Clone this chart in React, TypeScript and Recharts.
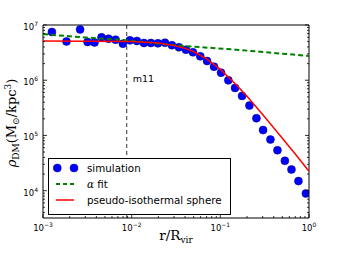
import React from 'react';
import { ComposedChart, Scatter, XAxis, YAxis, ReferenceLine } from 'recharts';

// simulation density profile (blue dots)
const simR = [
  0.00126, 0.00184, 0.00262, 0.00318, 0.00381, 0.00457, 0.00548, 0.00658, 0.00796, 0.00955,
  0.01146, 0.01375, 0.01648, 0.01977, 0.02372, 0.02844, 0.03412, 0.04093, 0.04909, 0.0594,
  0.0708, 0.0849, 0.1019, 0.1231, 0.1465, 0.1758, 0.2128, 0.2553, 0.3034, 0.3672,
  0.4406, 0.5343, 0.6342, 0.7603, 0.9226,
];
const simRho = [
  7.47e6, 5.05e6, 8.32e6, 4.93e6, 4.84e6, 5.97e6, 5.65e6, 5.42e6, 4.59e6, 5.27e6,
  5.14e6, 4.73e6, 4.73e6, 4.65e6, 4.78e6, 4.31e6, 3.94e6, 3.57e6, 3.2e6, 2.71e6,
  2.23e6, 1.76e6, 1.37e6, 9.96e5, 7.26e5, 5.2e5, 3.47e5, 2.05e5, 1.25e5, 8.44e4,
  5.4e4, 3.47e4, 2.42e4, 1.49e4, 8.9e3,
];

// alpha fit (green dashed)
const alphaR = [0.001, 0.002, 0.004, 0.008, 0.016, 0.03, 0.06, 0.15, 0.3, 0.6, 1.0];
const alphaRho = [6.85e6, 6.25e6, 5.75e6, 5.35e6, 4.8e6, 4.3e6, 3.97e6, 3.58e6, 3.25e6, 2.95e6, 2.75e6];

// pseudo-isothermal sphere (red)
const isoR = [0.001, 0.01, 0.02, 0.03, 0.04, 0.05, 0.07, 0.1, 0.15, 0.2, 0.3, 0.5, 0.7, 1.0];
const isoRho = [5.14e6, 5.03e6, 4.71e6, 4.27e6, 3.77e6, 3.28e6, 2.43e6, 1.57e6, 8.4e5, 5.1e5, 2.4e5, 8.9e4, 4.6e4, 2.25e4];

const m11Radius = 0.0088;

const xMajor = [0.001, 0.01, 0.1, 1];
const yMajor = [1e4, 1e5, 1e6, 1e7];
const xDomain = [0.001, 1];
const yDomain = [3200, 1e7];

const pairs = (rs: number[], vs: number[]) => rs.map((r, i) => ({ r, rho: vs[i] }));
const simData = pairs(simR, simRho);
const alphaData = pairs(alphaR, alphaRho);
const isoData = pairs(isoR, isoRho);

// majors plus 2..9 minors, kept inside the domain
const withMinors = (majors: number[], lo: number, hi: number) => {
  const out: number[] = [];
  const first = majors[0] / 10;
  for (let d = first; d <= hi * 1.0001; d *= 10) {
    for (let m = 1; m < 10; m++) {
      const v = d * m;
      if (v >= lo * 0.9999 && v <= hi * 1.0001) out.push(v);
    }
  }
  return out;
};
const xTicks = withMinors(xMajor, xDomain[0], xDomain[1]);
const yTicks = withMinors(yMajor, yDomain[0], yDomain[1]);

const isMajor = (v: number) => Math.abs(Math.log10(v) - Math.round(Math.log10(v))) < 1e-6;
const supText = (v: number) => {
  const e = Math.round(Math.log10(v));
  return e < 0 ? `\u2212${-e}` : `${e}`;
};

const tickFont = { fontFamily: 'DejaVu Sans', fontSize: 8.5, fill: '#000' };

const makeTick = (side: string) => (props: any) => {
  const { x, y, payload } = props;
  const v = payload.value;
  const major = isMajor(v);
  const len = major ? 4 : 2;
  if (side === 'bottom') {
    return (
      <g>
        <line x1={x} x2={x} y1={y} y2={y - len} stroke="#000" strokeWidth={0.8} />
        {major && (
          <text x={x} y={y + 13} textAnchor="middle" {...tickFont}>
            10<tspan dy={-4} fontSize={6}>{supText(v)}</tspan>
          </text>
        )}
      </g>
    );
  }
  if (side === 'top') {
    return <line x1={x} x2={x} y1={y} y2={y + len} stroke="#000" strokeWidth={0.8} />;
  }
  if (side === 'left') {
    return (
      <g>
        <line x1={x} x2={x + len} y1={y} y2={y} stroke="#000" strokeWidth={0.8} />
        {major && (
          <text x={x - 5} y={y + 5} textAnchor="end" {...tickFont}>
            10<tspan dy={-4} fontSize={6}>{supText(v)}</tspan>
          </text>
        )}
      </g>
    );
  }
  return <line x1={x} x2={x - len} y1={y} y2={y} stroke="#000" strokeWidth={0.8} />;
};

const NoShape = () => <g />;

const Dot = (props: any) => (
  <circle cx={props.cx} cy={props.cy} r={4} fill="#0000ff" stroke="#000080" strokeWidth={0.5} />
);

const M11Label = (props: any) => {
  const vb = props.viewBox || {};
  return (
    <text x={vb.x + 6} y={vb.y + 57} fontFamily="DejaVu Sans" fontSize={9.5} fill="#000">
      m11
    </text>
  );
};

const axisLine = { stroke: '#000', strokeWidth: 1 };
const serif = 'DejaVu Serif, DejaVu Sans';

const Legend = () => (
  <svg
    width={185}
    height={59}
    style={{ position: 'absolute', left: 47, top: 157 }}
  >
    <rect x={1.5} y={1.5} width={182} height={56} fill="#fff" stroke="#000" strokeWidth={1} />
    <circle cx={10.3} cy={11} r={4} fill="#0000ff" stroke="#000080" strokeWidth={0.5} />
    <circle cx={27} cy={11} r={4} fill="#0000ff" stroke="#000080" strokeWidth={0.5} />
    <text x={40} y={14.5} fontFamily="DejaVu Sans" fontSize={10.3} fill="#000">simulation</text>
    <line x1={9} x2={27} y1={27} y2={27} stroke="#008000" strokeWidth={2} strokeDasharray="4 3" />
    <text x={40} y={30.5} fontSize={10.3} fill="#000">
      <tspan fontFamily={serif} fontStyle="italic">α</tspan>
      <tspan fontFamily="DejaVu Sans"> fit</tspan>
    </text>
    <line x1={9} x2={27} y1={43} y2={43} stroke="#ff0000" strokeWidth={1.5} />
    <text x={40} y={46.5} fontFamily="DejaVu Sans" fontSize={10.3} fill="#000">pseudo-isothermal sphere</text>
  </svg>
);

export default function App() {
  return (
    <div style={{ position: 'fixed', left: 0, top: 0, width: 344, height: 258, background: '#fff' }}>
      <ComposedChart
        width={344}
        height={258}
        margin={{ top: 24, right: 34, bottom: 10, left: 8 }}
      >
        <XAxis
          dataKey="r"
          type="number"
          scale="log"
          domain={xDomain}
          allowDataOverflow
          ticks={xTicks}
          interval={0}
          tickSize={0}
          tickMargin={0}
          tickLine={false}
          tick={makeTick('bottom')}
          axisLine={axisLine}
          height={30}
        />
        <XAxis
          xAxisId="top"
          orientation="top"
          type="number"
          scale="log"
          domain={xDomain}
          allowDataOverflow
          ticks={xTicks}
          interval={0}
          tickSize={0}
          tickMargin={0}
          tickLine={false}
          tick={makeTick('top')}
          axisLine={axisLine}
          height={1}
        />
        <YAxis
          dataKey="rho"
          type="number"
          scale="log"
          domain={yDomain}
          allowDataOverflow
          ticks={yTicks}
          interval={0}
          tickSize={0}
          tickMargin={0}
          tickLine={false}
          tick={makeTick('left')}
          axisLine={axisLine}
          width={35}
        />
        <YAxis
          yAxisId="right"
          orientation="right"
          type="number"
          scale="log"
          domain={yDomain}
          allowDataOverflow
          ticks={yTicks}
          interval={0}
          tickSize={0}
          tickMargin={0}
          tickLine={false}
          tick={makeTick('right')}
          axisLine={axisLine}
          width={1}
        />
        <ReferenceLine
          x={m11Radius}
          stroke="#333"
          strokeWidth={1}
          strokeDasharray="4 3"
          label={<M11Label />}
        />
        <Scatter data={simData} shape={Dot} isAnimationActive={false} />
        <Scatter
          data={alphaData}
          shape={NoShape}
          line={{ stroke: '#008000', strokeWidth: 2, strokeDasharray: '5 3' }}
          lineType="joint"
          isAnimationActive={false}
        />
        <Scatter
          data={isoData}
          shape={NoShape}
          line={{ stroke: '#ff0000', strokeWidth: 1.5 }}
          lineType="joint"
          isAnimationActive={false}
        />
      </ComposedChart>
      <Legend />
      <svg width={344} height={258} style={{ position: 'absolute', left: 0, top: 0, pointerEvents: 'none' }}>
        <text
          transform="translate(16,123) rotate(-90)"
          textAnchor="middle"
          fontFamily={serif}
          fontSize={13}
          fill="#000"
        >
          <tspan fontStyle="italic">ρ</tspan>
          <tspan fontSize={9} dy={3}>DM</tspan>
          <tspan dy={-3}>(M</tspan>
          <tspan fontSize={9} dy={3}>⊙</tspan>
          <tspan dy={-3}>/kpc</tspan>
          <tspan fontSize={9} dy={-5}>3</tspan>
          <tspan dy={5}>)</tspan>
        </text>
        <text x={176} y={240} textAnchor="middle" fontFamily={serif} fontSize={13.5} fill="#000">
          r/R<tspan fontSize={9} dy={3}>vir</tspan>
        </text>
      </svg>
    </div>
  );
}
